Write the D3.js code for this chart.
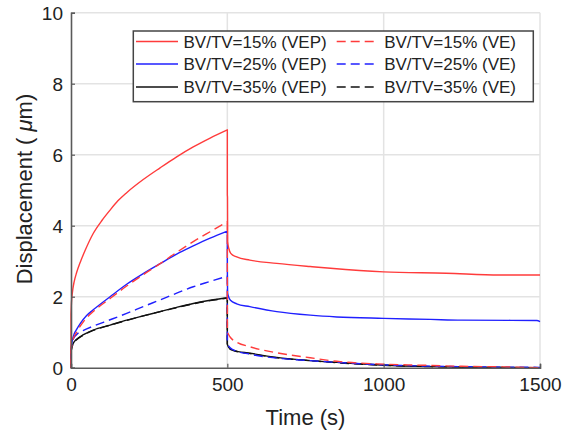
<!DOCTYPE html>
<html><head><meta charset="utf-8">
<script src="https://cdn.jsdelivr.net/npm/d3@7"></script>
<style>body{margin:0;background:#fff}svg{display:block}text{font-family:Arial,'Liberation Sans',sans-serif}</style>
</head><body>
<svg id="c" width="565" height="433"></svg>
<script>
// ---- data (time in s, displacement in µm) ----
const xTicks = [0, 500, 1000, 1500];
const yTicks = [0, 2, 4, 6, 8, 10];

const tVEP15 = [0,0,1,3,6,10,18,30,45,71,100,125,150,178,231,285,338,391,445,500,500,500.5,501,505,511,530,572,658,765,830,1000,1200,1370,1500];
const dVEP15 = [0,1.5,1.75,2.0,2.22,2.42,2.68,2.98,3.3,3.78,4.16,4.44,4.7,4.93,5.3,5.63,5.94,6.22,6.47,6.70,4.86,4.8,3.55,3.35,3.22,3.12,3.03,2.94,2.85,2.80,2.70,2.66,2.61,2.61];

const tVE15 = [0,0,5,18,40,71,125,178,231,285,338,391,445,500,500,503,510,530,572,658,765,850,1000,1125,1250,1400,1500];
const dVE15 = [0,0.45,0.75,1.0,1.3,1.58,1.95,2.3,2.62,2.93,3.25,3.55,3.83,4.11,1.0,0.95,0.85,0.72,0.59,0.42,0.28,0.18,0.10,0.07,0.04,0.02,0.0];

const tVEP25 = [0,0,2,5,10,18,30,50,71,125,178,231,285,338,391,445,500,500,501,505,510,530,572,658,765,850,1000,1150,1250,1490,1500];
const dVEP25 = [0,0.5,0.65,0.8,0.95,1.08,1.25,1.47,1.63,2.0,2.35,2.65,2.93,3.2,3.43,3.65,3.85,2.9,2.1,1.98,1.9,1.8,1.72,1.58,1.48,1.43,1.39,1.36,1.34,1.33,1.30];

const tVE25 = [0,0,3,10,20,40,71,125,178,231,285,338,391,445,500,500,505,520,572,658,765,850,1000,1250,1500];
const dVE25 = [0,0.45,0.7,0.85,0.95,1.05,1.17,1.35,1.53,1.72,1.91,2.1,2.28,2.43,2.58,0.75,0.6,0.5,0.38,0.27,0.2,0.15,0.08,0.03,0.01];

const tVEP35 = [0,0,2,8,18,40,71,125,178,231,285,338,391,445,500,500,505,520,572,658,765,850,1000,1150,1300,1500];
const dVEP35 = [0,0.45,0.55,0.7,0.8,0.93,1.06,1.2,1.34,1.46,1.58,1.7,1.81,1.9,1.97,0.66,0.56,0.49,0.41,0.29,0.2,0.15,0.07,0.03,0.01,0.0];

const tVE35 = [0,0,2,8,18,40,71,125,178,231,285,338,391,445,500,500,505,520,572,658,765,850,1000,1150,1300,1500];
const dVE35 = [0,0.44,0.54,0.69,0.79,0.92,1.05,1.2,1.33,1.46,1.58,1.69,1.8,1.89,1.96,0.64,0.55,0.48,0.40,0.28,0.2,0.14,0.07,0.03,0.01,0.0];

const seriesNames = ["BV/TV=15% (VEP)","BV/TV=15% (VE)","BV/TV=25% (VEP)","BV/TV=25% (VE)","BV/TV=35% (VEP)","BV/TV=35% (VE)"];
const seriesColors = ["#ff3b3b","#ff3b3b","#2020ff","#2020ff","#111111","#111111"];
const seriesDashed = [false,true,false,true,false,true];
const seriesT = [tVEP15,tVE15,tVEP25,tVE25,tVEP35,tVE35];
const seriesD = [dVEP15,dVE15,dVEP25,dVE25,dVEP35,dVE35];

// ---- layout ----
const svg = d3.select("#c");
const L = 71, R = 540, T = 12.7, B = 367.7;
const x = d3.scaleLinear().domain([0,1500]).range([L,R]);
const y = d3.scaleLinear().domain([0,10]).range([B,T]);

// grid
const g = svg.append("g");
g.selectAll(".gx").data(xTicks.filter(v=>v>0)).enter().append("line")
  .attr("x1",d=>x(d)).attr("x2",d=>x(d)).attr("y1",B).attr("y2",T)
  .attr("stroke","#e3e3e3").attr("stroke-width",1.5);
g.selectAll(".gy").data(yTicks.filter(v=>v>0)).enter().append("line")
  .attr("x1",L).attr("x2",R).attr("y1",d=>y(d)).attr("y2",d=>y(d))
  .attr("stroke","#e3e3e3").attr("stroke-width",1.5);

// lines: smooth runs of increasing time, straight vertical jumps where time repeats
const smooth = d3.line().x(d=>x(d[0])).y(d=>y(d[1])).curve(d3.curveMonotoneX);
function pathFor(pts){
  const runs = [];
  let cur = [pts[0]];
  for (let k = 1; k < pts.length; k++) {
    if (pts[k][0] === pts[k-1][0]) { runs.push(cur); cur = [pts[k]]; }
    else cur.push(pts[k]);
  }
  runs.push(cur);
  let d = "";
  runs.forEach((r,i)=>{
    let s = r.length > 1 ? smooth(r) : `M${x(r[0][0])},${y(r[0][1])}`;
    if (i > 0) s = "L" + s.slice(1);
    d += s;
  });
  return d;
}
for (let i = 5; i >= 0; i--) {
  const pts = seriesT[i].map((t,k)=>[t, seriesD[i][k]]);
  svg.append("path").attr("d",pathFor(pts))
    .attr("fill","none").attr("stroke",seriesColors[i]).attr("stroke-width",1.4)
    .attr("stroke-linejoin","round")
    .attr("stroke-dasharray", seriesDashed[i] ? "9,5" : null);
}

// axes
const axColor = "#5a5a5a";
const xAxis = svg.append("g").attr("transform",`translate(0,${B})`)
  .call(d3.axisBottom(x).tickValues(xTicks).tickSize(-4).tickPadding(10).tickFormat(d3.format("d")));
const yAxis = svg.append("g").attr("transform",`translate(${L},0)`)
  .call(d3.axisLeft(y).tickValues(yTicks).tickSize(-4).tickPadding(8).tickFormat(d3.format("d")));
[xAxis,yAxis].forEach(a=>{
  a.select(".domain").attr("stroke",axColor).attr("stroke-width",1.6);
  a.selectAll(".tick line").attr("stroke",axColor).attr("stroke-width",1.2);
  a.selectAll("text").attr("fill","#222").style("font-size","19px").style("font-family","Arial,'Liberation Sans',sans-serif");
});
xAxis.selectAll(".tick text").attr("dy","0.72em");
yAxis.selectAll(".tick text").attr("dy","0.36em");

// axis labels
svg.append("text").attr("x",(L+R)/2).attr("y",425).attr("text-anchor","middle")
  .attr("fill","#222").style("font-size","22px").text("Time (s)");
const yl = svg.append("text").attr("transform","translate(32,189) rotate(-90)")
  .attr("text-anchor","middle").attr("fill","#222").style("font-size","22px");
yl.append("tspan").text("Displacement ( ");
yl.append("tspan").style("font-style","italic").text("μ");
yl.append("tspan").text("m)");

// legend
const lg = svg.append("g");
lg.append("rect").attr("x",133.3).attr("y",31).attr("width",400).attr("height",70.7)
  .attr("fill","#fff").attr("stroke","#444").attr("stroke-width",1.5);
const rowY = [41.5, 64, 87];
seriesNames.forEach((name,i)=>{
  const col = i % 2, row = Math.floor(i/2);
  const x0 = col === 0 ? 136 : 336.7;
  lg.append("line").attr("x1",x0).attr("x2",x0+42).attr("y1",rowY[row]).attr("y2",rowY[row])
    .attr("stroke",seriesColors[i]).attr("stroke-width",1.4)
    .attr("stroke-dasharray", seriesDashed[i] ? "9,5" : null);
  lg.append("text").attr("x",x0+47.5).attr("y",rowY[row]).attr("dy","0.36em")
    .attr("fill","#222").style("font-size","17px").text(name);
});
</script>
</body></html>
